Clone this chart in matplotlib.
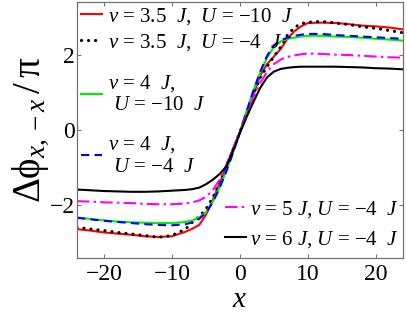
import numpy as np
import matplotlib
matplotlib.use('Agg')
import matplotlib.pyplot as plt

plt.rcParams['font.family'] = 'Liberation Serif'
plt.rcParams['mathtext.fontset'] = 'custom'
plt.rcParams['mathtext.rm'] = 'Liberation Serif'
plt.rcParams['mathtext.it'] = 'Liberation Serif:italic'

# positions along the chain
x = [-24, -22, -20, -18, -16, -14, -12, -10, -8, -7, -6, -5, -4, -3, -2, -1, 0,
     1, 2, 3, 4, 5, 6, 7, 8, 9, 10, 12, 14, 16, 18, 20, 22, 24]

# v = 3.5 J, U = -10 J
red = [-2.63, -2.67, -2.72, -2.75, -2.78, -2.82, -2.84, -2.82, -2.70, -2.62, -2.52, -2.25, -1.85, -1.42, -0.97, -0.50, -0.05,
       0.45, 0.95, 1.45, 1.75, 1.95, 2.15, 2.42, 2.62, 2.75, 2.84, 2.85, 2.84, 2.81, 2.77, 2.75, 2.72, 2.67]
# v = 3.5 J, U = -4 J
black_dot = [-2.58, -2.63, -2.67, -2.72, -2.76, -2.80, -2.85, -2.80, -2.63, -2.45, -2.30, -2.10, -1.80, -1.40, -0.97, -0.52, -0.05,
             0.45, 0.95, 1.40, 1.68, 1.95, 2.20, 2.52, 2.72, 2.82, 2.86, 2.88, 2.84, 2.80, 2.74, 2.70, 2.64, 2.58]
# v = 4 J, U = -10 J
green = [-2.32, -2.36, -2.40, -2.43, -2.45, -2.46, -2.47, -2.47, -2.44, -2.40, -2.32, -2.18, -1.90, -1.52, -1.08, -0.58, -0.05,
         0.52, 1.05, 1.52, 1.92, 2.20, 2.35, 2.42, 2.45, 2.48, 2.50, 2.50, 2.48, 2.47, 2.45, 2.42, 2.40, 2.37]
# v = 4 J, U = -4 J
blue = [-2.33, -2.37, -2.41, -2.44, -2.47, -2.50, -2.52, -2.53, -2.50, -2.45, -2.36, -2.20, -1.92, -1.54, -1.10, -0.60, -0.05,
        0.50, 1.05, 1.55, 1.97, 2.25, 2.38, 2.45, 2.50, 2.53, 2.55, 2.55, 2.52, 2.50, 2.48, 2.46, 2.44, 2.42]
# v = 5 J, U = -4 J
magenta = [-1.89, -1.90, -1.92, -1.93, -1.94, -1.96, -1.97, -1.97, -1.95, -1.92, -1.87, -1.77, -1.60, -1.32, -0.92, -0.48, -0.05,
           0.42, 0.88, 1.25, 1.55, 1.75, 1.87, 1.94, 1.98, 2.01, 2.03, 2.02, 2.00, 1.99, 1.97, 1.95, 1.93, 1.92]
# v = 6 J, U = -4 J
black = [-1.58, -1.60, -1.62, -1.63, -1.64, -1.64, -1.63, -1.61, -1.59, -1.57, -1.53, -1.44, -1.32, -1.17, -0.97, -0.55, -0.08,
         0.35, 0.75, 1.12, 1.40, 1.55, 1.62, 1.65, 1.67, 1.68, 1.68, 1.68, 1.68, 1.67, 1.66, 1.64, 1.63, 1.61]

xticks = [-20, -10, 0, 10, 20]
yticks = [-2, 0, 2]
xticklabels = ['\u221220', '\u221210', '0', '10', '20']
yticklabels = ['\u22122', '0', '2']

fig = plt.figure(figsize=(4.07, 3.14), dpi=100)
ax = fig.add_axes([0.189, 0.178, 0.801, 0.816])

l1, = ax.plot(x, red, color='red', lw=1.5)
l2, = ax.plot(x, black_dot, color='black', lw=2.3, linestyle=(0, (0.01, 2.2)),
              dash_capstyle='round')
l3, = ax.plot(x, green, color='#00ee00', lw=1.5)
l4, = ax.plot(x, blue, color='blue', lw=1.5, linestyle=(0, (4, 2.5)))
l5, = ax.plot(x, magenta, color='magenta', lw=1.5, linestyle=(0, (6, 2, 1.2, 2)))
l6, = ax.plot(x, black, color='black', lw=1.5)

ax.set_xlim(-24, 24)
ax.set_ylim(-3.4, 3.4)
ax.set_xticks(xticks)
ax.set_yticks(yticks)
ax.set_xticklabels(xticklabels)
ax.set_yticklabels(yticklabels)
ax.tick_params(direction='in', top=True, right=True, labelsize=17, length=3,
               color='0.45')
ax.tick_params(axis='x', pad=4)
ax.tick_params(axis='y', pad=1.5)
for s in ax.spines.values():
    s.set_color('0.45')
    s.set_linewidth(0.9)

ax.set_xlabel(r'$x$', fontsize=21, labelpad=2)
ax.set_ylabel(r'$\mathrm{\Delta\phi}_{x,-x}\,/\,\mathrm{\pi}$', fontsize=28, labelpad=-1)

lab = [r'$v$ = 3.5  $J$,  $U$ = $-$10  $J$',
       r'$v$ = 3.5  $J$,  $U$ = $-$4  $J$',
       r'$v$ = 4  $J$,' + '\n' + r' $U$ = $-$10  $J$',
       r'$v$ = 4  $J$,' + '\n' + r' $U$ = $-$4  $J$',
       r'$v$ = 5 $J$, $U$ = $-$4  $J$',
       r'$v$ = 6 $J$, $U$ = $-$4  $J$']

leg_kw = dict(frameon=False, fontsize=15, handlelength=1.0, borderaxespad=0.1,
              borderpad=0.1)
leg1 = ax.legend([l1, l2], lab[:2], loc='upper left', handletextpad=0.3,
                 labelspacing=0.25, **leg_kw)
ax.add_artist(leg1)
leg2 = ax.legend([l3, l4], lab[2:4], loc='upper left', handletextpad=0.3,
                 labelspacing=0.9, bbox_to_anchor=(0.0, 0.74), **leg_kw)
ax.add_artist(leg2)
ax.legend([l5, l6], lab[4:], loc='lower right', handletextpad=0.2,
          labelspacing=0.45, bbox_to_anchor=(1.0, 0.015), **leg_kw)

fig.savefig('out.png', dpi=100)
